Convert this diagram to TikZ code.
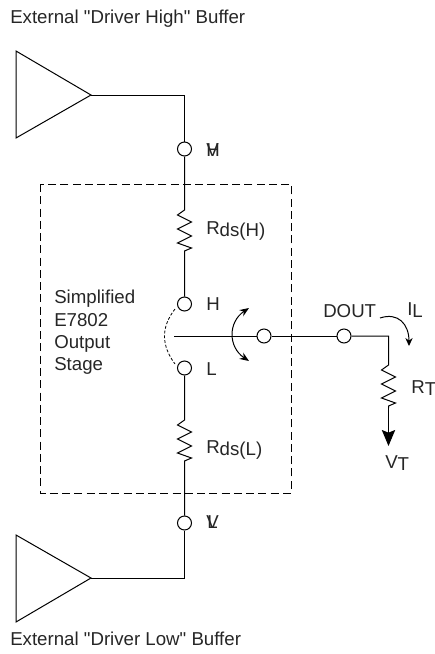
\documentclass[tikz,border=0pt]{standalone}
\usepackage{fontspec}
\newfontfamily\plainfont{Liberation Sans}
\usetikzlibrary{arrows.meta}
\newcommand{\low}[1]{\raisebox{-2.2pt}{#1}}
\tikzset{
  pin/.style={circle,draw,line width=0.75pt,fill=white,minimum size=14*0.75pt,inner sep=0pt},
  wire/.style={line width=0.75pt},
  lbl/.style={inner sep=0pt,anchor=base west,text=black!85,font=\plainfont\fontsize{14pt}{16pt}\selectfont}
}
\begin{document}
\begin{tikzpicture}[x=0.75pt,y=-0.75pt]
\useasboundingbox (0,0) rectangle (435,654);
% buffers
\draw [wire] (16,51) -- (16,138) -- (91,95) -- cycle;
\draw [wire] (16,535) -- (16,622) -- (91,578) -- cycle;
\coordinate (hout) at (91,95);
\coordinate (lout) at (91,578);
\coordinate (hcorner) at (184.5,95);
\coordinate (lcorner) at (184.5,578);
% box
\draw [line width=0.7pt,dash pattern=on 6pt off 3.2pt] (40,184) rectangle (291,493);
% pins
\node [pin] (vh) at (184.5,149) {};
\node [pin] (h) at (184.5,304) {};
\node [pin] (l) at (184.5,368) {};
\node [pin] (vl) at (184.5,523) {};
\node [pin] (sw) at (264,336) {};
\node [pin] (dout) at (344,336) {};
\coordinate (swtip) at (174,336);
\coordinate (rcorner) at (388.5,336);
\coordinate (rttop) at (388.5,365);
\coordinate (rtbot) at (388.5,408);
\coordinate (vt) at (388.5,446);
% wires
\draw [wire] (hout) -- (hcorner) -- (vh);
\draw [wire] (vh) -- (184.5,210) -- ++(-7,5) -- ++(14,7) -- ++(-14,7) -- ++(14,7) -- ++(-14,7) -- ++(14,5) -- ++(-7,3) -- (h);
\draw [wire] (l) -- (184.5,420) -- ++(-7,5) -- ++(14,7) -- ++(-14,7) -- ++(14,7) -- ++(-14,7) -- ++(14,5) -- ++(-7,3) -- (vl);
\draw [wire] (vl) -- (lcorner) -- (lout);
\draw [wire] (swtip) -- (sw);
\draw [wire] (sw) -- (dout);
\draw [wire] (dout) -- (rcorner) -- (rttop) -- ++(-7,5) -- ++(14,7) -- ++(-14,7) -- ++(14,7) -- ++(-14,7) -- ++(14,5) -- ++(-7,3) -- (rtbot);
\draw [wire,-{Stealth[length=12pt,width=10pt,inset=2pt]}] (rtbot) -- (vt);
% arcs
\draw [line width=0.6pt,dash pattern=on 2.2pt off 1.4pt] (175,309) .. controls (161,327) and (161,345) .. (175,364);
\draw [wire,{Stealth[length=7pt,width=5.5pt]}-{Stealth[length=7pt,width=5.5pt]}] (249,308) .. controls (228,322) and (228,347) .. (249,361);
\draw [wire,-{Stealth[length=6pt,width=5.5pt]}] (380,318) .. controls (398,312) and (409,324) .. (409,346);
% labels
\node [lbl] (thigh) at (10,23) {External "Driver High" Buffer};
\node [lbl] (tlow) at (10,645) {External "Driver Low" Buffer};
\node [lbl] (tvh1) at (206,156) {V};
\node [lbl] (tvh2) at (206,156) {H};
\node [lbl] (tvl1) at (206,528) {V};
\node [lbl] (tvl2) at (207,528) {L};
\node [lbl] (th) at (206,310) {H};
\node [lbl] (tl) at (206,375) {L};
\node [lbl] (rdsh) at (206,234) {R\low{ds(H)}};
\node [lbl] (rdsl) at (206,453) {R\low{ds(L)}};
\node [lbl] (stage1) at (54,303) {Simplified};
\node [lbl] (stage2) at (54,326) {E7802};
\node [lbl] (stage3) at (54,348) {Output};
\node [lbl] (stage4) at (54,370) {Stage};
\node [lbl] (tdout) at (323,317) {DOUT};
\node [lbl] (il) at (407,315) {I\low{L}};
\node [lbl] (rt) at (411,393) {R\low{T}};
\node [lbl] (tvt) at (385,468) {V\low{T}};
\end{tikzpicture}
\end{document}
